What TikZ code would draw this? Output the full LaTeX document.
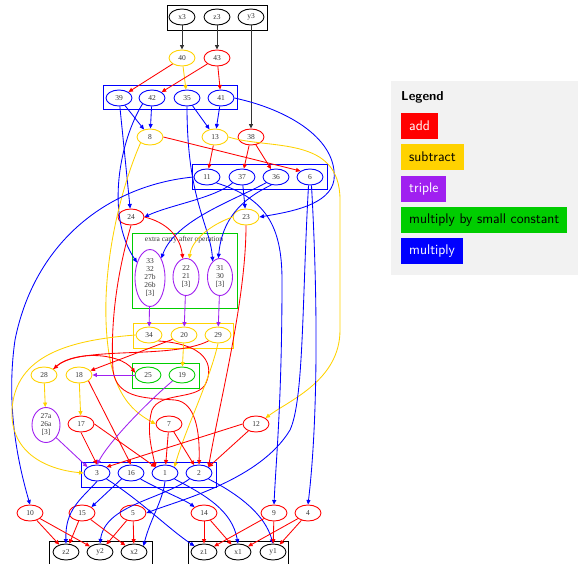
\documentclass[tikz,border=0pt]{standalone}
\usepackage{fontspec}
\newfontfamily\gfont{Liberation Serif}
\usetikzlibrary{shapes.geometric,arrows.meta}
\definecolor{cadd}{RGB}{255,0,0}
\definecolor{csub}{RGB}{255,210,0}
\definecolor{ctri}{RGB}{160,32,240}
\definecolor{cmsc}{RGB}{0,205,0}
\definecolor{cmul}{RGB}{0,0,255}
\definecolor{legbg}{RGB}{242,242,242}
\begin{document}
\begin{tikzpicture}[x=1pt,y=-1pt,
 nd/.style={ellipse, draw, line width=0.9pt, minimum width=26pt, minimum height=16pt, inner sep=0pt, font=\gfont\fontsize{7.5}{8}\selectfont, text=black!80},
 tall/.style={nd, align=center},
 e/.style={-{Triangle[length=4.5pt,width=4pt]}, line width=0.85pt},
 cl/.style={line width=1pt},
 legbox/.style={anchor=west, minimum height=26pt, inner xsep=8pt, inner ysep=0pt, font=\sffamily\fontsize{14}{16}\selectfont},
]
\useasboundingbox (0,0) rectangle (578,564);
% cluster boxes
\draw[cl,black] (167,6) rectangle (267,31);
\draw[cl,cmul] (103,86) rectangle (237,110);
\draw[cl,cmul] (192,165) rectangle (327,190);
\draw[cl,cmsc] (132,233) rectangle (237,308);
\draw[cl,csub] (133,323) rectangle (233,348);
\draw[cl,cmsc] (132,363) rectangle (199,388);
\draw[cl,cmul] (81,462) rectangle (216,487);
\draw[cl,black] (49,541) rectangle (152,570);
\draw[cl,black] (188,541) rectangle (288,570);
\node[font=\gfont\fontsize{7.5}{8}\selectfont, text=black!80] (lbl) at (184,240) {extra carry after operation};
% nodes
\node[nd,draw=black] (x3) at (182,17) {x3};
\node[nd,draw=black] (z3) at (217,17) {z3};
\node[nd,draw=black] (y3) at (251,17) {y3};
\node[nd,draw=csub] (n40) at (182,58) {40};
\node[nd,draw=cadd] (n43) at (217,58) {43};
\node[nd,draw=cmul] (n39) at (119,98) {39};
\node[nd,draw=cmul] (n42) at (152,98) {42};
\node[nd,draw=cmul] (n35) at (187,98) {35};
\node[nd,draw=cmul] (n41) at (221,98) {41};
\node[nd,draw=csub] (n8) at (150,137) {8};
\node[nd,draw=csub] (n13) at (215,137) {13};
\node[nd,draw=cadd] (n38) at (251,137) {38};
\node[nd,draw=cmul] (n11) at (207,177) {11};
\node[nd,draw=cmul] (n37) at (242,177) {37};
\node[nd,draw=cmul] (n36) at (276,177) {36};
\node[nd,draw=cmul] (n6) at (310,177) {6};
\node[nd,draw=cadd] (n24) at (131,217) {24};
\node[nd,draw=csub] (n23) at (246,217) {23};
\node[tall,draw=ctri,minimum width=30pt,minimum height=57pt] (t33) at (150,278) {33\\32\\27b\\26b\\{[3]}};
\node[tall,draw=ctri,minimum width=26pt,minimum height=37pt] (t22) at (186,277) {22\\21\\{[3]}};
\node[tall,draw=ctri,minimum width=25pt,minimum height=37pt] (t31) at (220,277) {31\\30\\{[3]}};
\node[nd,draw=csub] (n34) at (149,335) {34};
\node[nd,draw=csub] (n20) at (184,335) {20};
\node[nd,draw=csub] (n29) at (218,335) {29};
\node[nd,draw=csub] (n28) at (44,375) {28};
\node[nd,draw=csub] (n18) at (79,375) {18};
\node[nd,draw=cmsc] (n25) at (148,375) {25};
\node[nd,draw=cmsc] (n19) at (182,375) {19};
\node[tall,draw=ctri,minimum width=28pt,minimum height=35pt] (t27) at (46,425) {27a\\26a\\{[3]}};
\node[nd,draw=cadd] (n17) at (81,424) {17};
\node[nd,draw=cadd] (n7) at (169,424) {7};
\node[nd,draw=cadd] (n12) at (256,424) {12};
\node[nd,draw=cmul] (n3) at (97,473) {3};
\node[nd,draw=cmul] (n16) at (131,473) {16};
\node[nd,draw=cmul] (n1) at (165,473) {1};
\node[nd,draw=cmul] (n2) at (199,473) {2};
\node[nd,draw=cadd] (n10) at (30,513) {10};
\node[nd,draw=cadd] (n15) at (82,513) {15};
\node[nd,draw=cadd] (n5) at (133,513) {5};
\node[nd,draw=cadd] (n14) at (204,513) {14};
\node[nd,draw=cadd] (n9) at (274,513) {9};
\node[nd,draw=cadd] (n4) at (308,513) {4};
\node[nd,draw=black] (z2) at (66,552) {z2};
\node[nd,draw=black] (y2) at (100,552) {y2};
\node[nd,draw=black] (x2) at (134,552) {x2};
\node[nd,draw=black] (z1) at (204,552) {z1};
\node[nd,draw=black] (x1) at (238,552) {x1};
\node[nd,draw=black] (y1) at (273,552) {y1};
% black edges
\draw[e,black!80] (x3) -- (n40);
\draw[e,black!80] (z3) -- (n43);
\draw[e,black!80] (y3) -- (n38);
% top
\draw[e,cadd] (n40) -- (n39);
\draw[e,csub] (n40) -- (n35);
\draw[e,cadd] (n43) -- (n42);
\draw[e,cadd] (n43) -- (n41);
\draw[e,cmul] (n39) -- (n8);
\draw[e,cmul] (n42) -- (n8);
\draw[e,cmul] (n35) -- (n13);
\draw[e,cmul] (n41) -- (n13);
\draw[e,cmul] (n39) -- (n24);
\draw[e,cmul] (n42.south west) .. controls (120,140) and (105,215) .. (t33.130);
\draw[e,cmul] (n35.south) .. controls (187,200) and (210,225) .. (t31.115);
\draw[e,cmul] (n41.east) .. controls (290,110) and (338,140) .. (334,180) .. controls (330,205) and (290,212) .. (n23.east);
\draw[e,cadd] (n8.east) -- (n6.north west);
\draw[e,csub] (n8.south west) .. controls (120,190) and (104,260) .. (106,320) .. controls (108,390) and (130,410) .. (n7.west);
\draw[e,cadd] (n13) -- (n11);
\draw[e,csub] (n13.east) .. controls (270,150) and (340,135) .. (340,200) -- (340,330) .. controls (340,380) and (290,400) .. (n12.north east);
\draw[e,cadd] (n38) -- (n37);
\draw[e,cadd] (n38) -- (n36);
\draw[e,cmul] (n37.south west) .. controls (215,198) and (170,205) .. (n24.east);
\draw[e,cmul] (n37) -- (n23);
\draw[e,cmul] (n36.210) .. controls (235,200) and (175,220) .. (t33.60);
\draw[e,cmul] (n36.240) .. controls (240,200) and (222,220) .. (t31.95);
\draw[e,cmul] (n11.west) .. controls (110,185) and (35,240) .. (15,340) .. controls (5,410) and (20,470) .. (n10.north);
\draw[e,cmul] (n11.south east) .. controls (265,198) and (282,225) .. (282,280) .. controls (282,400) and (276,460) .. (n9.north);
\draw[e,cmul] (n6.260) .. controls (302,300) and (304,400) .. (290,430) .. controls (260,480) and (180,500) .. (n5.east);
\draw[e,cmul] (n6.280) .. controls (318,300) and (318,420) .. (n4.north);
% middle
\draw[e,cadd] (n24.east) .. controls (165,222) and (180,235) .. (t22.100);
\draw[e,cadd] (n24.south) .. controls (118,270) and (110,320) .. (113,370) .. controls (116,400) and (150,398) .. (175,400) .. controls (195,402) and (200,430) .. (n2.north);
\draw[e,cadd] (n23.south) .. controls (246,300) and (220,400) .. (n2.north east);
\draw[e,csub] (n23.west) .. controls (210,225) and (192,240) .. (t22.80);
\draw[e,ctri] (t33) -- (n34);
\draw[e,ctri] (t22) -- (n20);
\draw[e,ctri] (t31) -- (n29);
\draw[e,cadd] (n34.south east) .. controls (215,345) and (212,372) .. (205,385) .. controls (195,400) and (160,392) .. (152,410) .. controls (146,430) and (152,450) .. (n1.north west);
\draw[e,csub] (n34.west) .. controls (70,340) and (15,355) .. (12,410) .. controls (10,455) and (50,470) .. (n3.west);
\draw[e,cadd] (n20) -- (n18);
\draw[e,csub] (n20) -- (n19);
\draw[e,cadd] (n29.south west) .. controls (170,360) and (80,345) .. (n28.north east);
\draw[e,csub] (n29.south) .. controls (210,380) and (185,430) .. (n1.north east);
\draw[e,cadd] (n28.north east) .. controls (70,350) and (120,352) .. (n25.170);
\draw[e,csub] (n28) -- (t27);
\draw[e,ctri] (n25) -- (n18);
\draw[e,csub] (n18) -- (n17);
\draw[e,cadd] (n18.south east) -- (n16.north);
\draw[e,ctri] (n19.south west) .. controls (150,400) and (110,440) .. (n3.north);
\draw[e,ctri] (t27.south east) -- (n3.north west);
\draw[e,cadd] (n17.east) -- (n1.north west);
\draw[e,cadd] (n17.south) -- (n3.north);
\draw[e,cadd] (n7) -- (n1);
\draw[e,cadd] (n7) -- (n2);
\draw[e,cadd] (n12) -- (n2.north east);
\draw[e,cadd] (n12.west) -- (n3.north east);
% bottom
\draw[e,cmul] (n3.south) .. controls (80,500) and (65,510) .. (z2.north);
\draw[e,cmul] (n3.south east) .. controls (140,500) and (170,530) .. (z1.north west);
\draw[e,cmul] (n16.south west) -- (n15.north east);
\draw[e,cmul] (n16.south east) .. controls (160,490) and (185,500) .. (n14.north west);
\draw[e,cmul] (n1.south) .. controls (163,500) and (150,520) .. (x2.north east);
\draw[e,cmul] (n1.south east) .. controls (205,495) and (232,510) .. (x1.north);
\draw[e,cmul] (n2.south west) .. controls (160,500) and (105,505) .. (y2.north);
\draw[e,cmul] (n2.south east) .. controls (240,495) and (265,515) .. (y1.north);
\draw[e,cadd] (n10) -- (z2);
\draw[e,cadd] (n10) -- (y2);
\draw[e,cadd] (n15) -- (z2);
\draw[e,cadd] (n15) -- (x2);
\draw[e,cadd] (n5) -- (y2);
\draw[e,cadd] (n5) -- (x2);
\draw[e,cadd] (n14) -- (z1);
\draw[e,cadd] (n14) -- (x1);
\draw[e,cadd] (n9) -- (z1);
\draw[e,cadd] (n9) -- (y1);
\draw[e,cadd] (n4) -- (x1);
\draw[e,cadd] (n4) -- (y1);
% legend
\fill[legbg] (391,81) rectangle (578,275);
\node[anchor=west, font=\sffamily\bfseries\fontsize{13}{15}\selectfont, inner sep=0pt] (leg) at (401,97) {Legend};
\node[legbox, fill=cadd, text=white] (ladd) at (401,126) {add};
\node[legbox, fill=csub, text=black] (lsub) at (401,157) {subtract};
\node[legbox, fill=ctri, text=white] (ltri) at (401,189) {triple};
\node[legbox, fill=cmsc, text=black] (lmsc) at (401,220) {multiply by small constant};
\node[legbox, fill=cmul, text=white] (lmul) at (401,251) {multiply};
\end{tikzpicture}
\end{document}
